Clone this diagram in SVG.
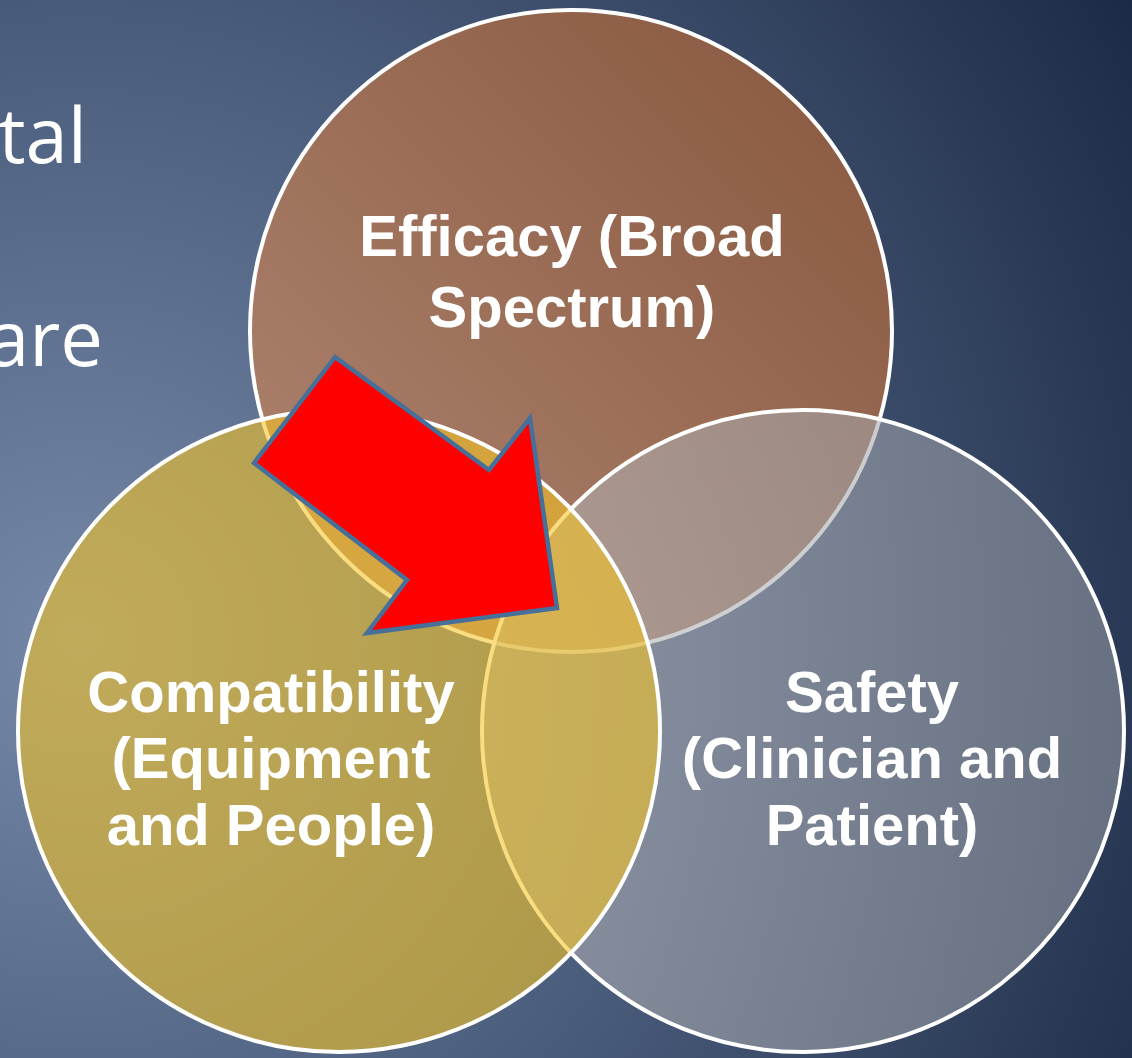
<svg xmlns="http://www.w3.org/2000/svg" width="1132" height="1058" viewBox="0 0 1132 1058">
  <defs>
    <radialGradient id="bg" gradientUnits="userSpaceOnUse" cx="80" cy="640" r="1240">
      <stop offset="0" stop-color="#7688a7"/>
      <stop offset="0.5" stop-color="#4a5c7c"/>
      <stop offset="1" stop-color="#1b2a44"/>
    </radialGradient>
    <linearGradient id="effFill" x1="0" y1="1" x2="1" y2="0">
      <stop offset="0" stop-color="#b08672"/>
      <stop offset="1" stop-color="#87563d"/>
    </linearGradient>
    <linearGradient id="safFill" x1="0" y1="0" x2="1" y2="0">
      <stop offset="0" stop-color="#b4b4b6"/>
      <stop offset="1" stop-color="#989ca3"/>
    </linearGradient>
    <style>
      .circ { stroke: #ffffff; stroke-width: 4; }
      .eff { fill: url(#effFill); }
      .saf { fill: url(#safFill); fill-opacity: 0.56; }
      .com { fill: #f6c425; fill-opacity: 0.58; }
      .lbl { font-family: "Liberation Sans", Arial, sans-serif; font-weight: bold; font-size: 58px; fill: #ffffff; text-anchor: middle; }
      .body { font-family: "Open Sans", "Noto Sans", sans-serif; font-size: 76px; fill: #ffffff; text-anchor: end; }
      .arr { fill: #ff0000; stroke: #46709a; stroke-width: 4.5; stroke-linejoin: miter; }
    </style>
  </defs>

  <rect x="0" y="0" width="1132" height="1058" fill="url(#bg)"/>

  <g id="background-text">
    <text class="body" x="87" y="163">tal</text>
    <text class="body" x="103" y="366">are</text>
  </g>

  <g id="node-efficacy">
    <circle class="circ eff" cx="571" cy="331" r="321"/>
    <text class="lbl" x="572" y="256">Efficacy (Broad</text>
    <text class="lbl" x="572" y="327">Spectrum)</text>
  </g>

  <g id="node-safety">
    <circle class="circ saf" cx="803" cy="731" r="321"/>
    <text class="lbl" x="872" y="712">Safety</text>
    <text class="lbl" x="872" y="778">(Clinician and</text>
    <text class="lbl" x="872" y="845">Patient)</text>
  </g>

  <g id="node-compatibility">
    <circle class="circ com" cx="339" cy="731" r="321"/>
    <text class="lbl" x="271" y="712">Compatibility</text>
    <text class="lbl" x="271" y="778">(Equipment</text>
    <text class="lbl" x="271" y="845">and People)</text>
  </g>

  <g id="connectors">
    <polygon id="arrow" class="arr" points="335,357 489,470 530,418 557,608 367,633 407,580 254,463"/>
  </g>
</svg>
